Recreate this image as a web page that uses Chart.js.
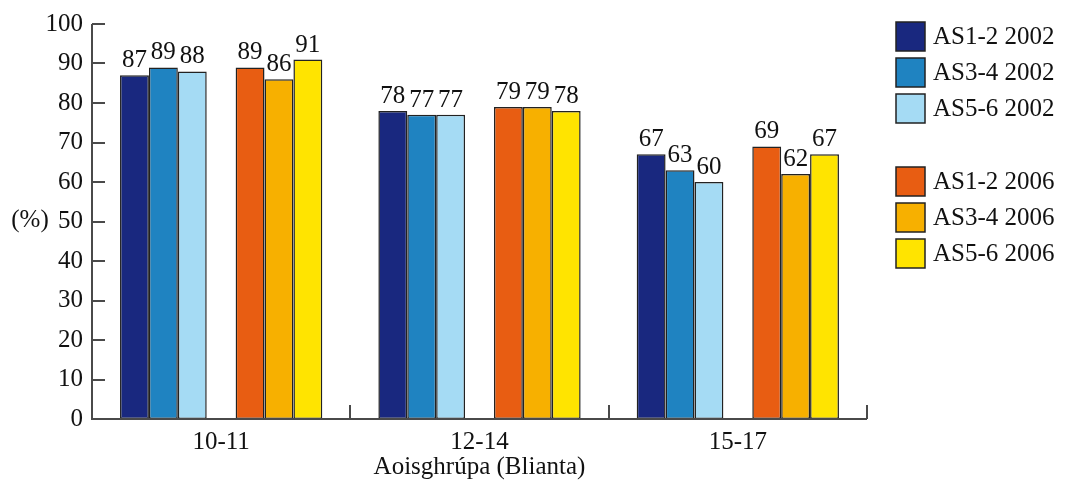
<!DOCTYPE html>
<html>
<head>
<meta charset="utf-8">
<script src="https://cdn.jsdelivr.net/npm/chart.js@4.4.0/dist/chart.umd.min.js"></script>
<style>
html,body{margin:0;padding:0;background:#fff;}
#wrap{width:1066px;height:481px;position:relative;}
</style>
</head>
<body>
<div id="wrap"><canvas id="c" width="1066" height="481"></canvas></div>
<script>
const categories = ['10-11', '12-14', '15-17'];
const seriesLabels = ['AS1-2 2002', 'AS3-4 2002', 'AS5-6 2002', 'AS1-2 2006', 'AS3-4 2006', 'AS5-6 2006'];
const as12_2002 = [87, 78, 67];
const as34_2002 = [89, 77, 63];
const as56_2002 = [88, 77, 60];
const as12_2006 = [89, 79, 69];
const as34_2006 = [86, 79, 62];
const as56_2006 = [91, 78, 67];
const yTicks = [0, 10, 20, 30, 40, 50, 60, 70, 80, 90, 100];
const yTitle = '(%)';
const xTitle = 'Aoisghrúpa (Blianta)';

const colors = ['#19287f', '#1f83c1', '#a5dbf4', '#e85d12', '#f7b000', '#ffe400'];
const FONT = '"Liberation Serif", "DejaVu Serif", serif';
const FS = 25;
const seriesData = [as12_2002, as34_2002, as56_2002, as12_2006, as34_2006, as56_2006];

const datasets = [];
seriesData.forEach((d, i) => {
  if (i === 3) {
    datasets.push({ label: '', data: categories.map(() => null), backgroundColor: 'rgba(0,0,0,0)', borderWidth: 0, spacer: true });
  }
  datasets.push({
    label: seriesLabels[i], data: d, backgroundColor: colors[i],
    borderColor: '#222', borderWidth: 1.5, borderSkipped: false
  });
});

const deco = {
  id: 'deco',
  afterDraw(chart) {
    const ctx = chart.ctx;
    const ca = chart.chartArea;
    const xs = chart.scales.x, ys = chart.scales.y;
    ctx.save();
    // axes
    ctx.strokeStyle = '#4a4a4a';
    ctx.lineWidth = 2;
    ctx.beginPath();
    ctx.moveTo(ca.left, ys.getPixelForValue(100));
    ctx.lineTo(ca.left, ys.getPixelForValue(0));
    ctx.lineTo(ca.right, ys.getPixelForValue(0));
    ctx.stroke();
    // y ticks inward
    yTicks.forEach(v => {
      const y = Math.round(ys.getPixelForValue(v));
      ctx.beginPath();
      ctx.moveTo(ca.left, y);
      ctx.lineTo(ca.left + 13, y);
      ctx.stroke();
    });
    // x category boundary ticks
    const y0 = ys.getPixelForValue(0);
    const w = (xs.getPixelForValue(1) - xs.getPixelForValue(0));
    for (let i = 0; i < categories.length; i++) {
      const xb = Math.round(xs.getPixelForValue(i) + w / 2);
      ctx.beginPath();
      ctx.moveTo(xb, y0);
      ctx.lineTo(xb, y0 - 14);
      ctx.stroke();
    }
    // data labels
    ctx.fillStyle = '#111';
    ctx.font = FS + 'px ' + FONT;
    ctx.textAlign = 'center';
    ctx.textBaseline = 'alphabetic';
    chart.data.datasets.forEach((ds, di) => {
      if (ds.spacer) return;
      const meta = chart.getDatasetMeta(di);
      meta.data.forEach((bar, j) => {
        ctx.fillText(String(ds.data[j]), bar.x, bar.y - 8);
      });
    });
    // axis titles
    ctx.textBaseline = 'middle';
    ctx.fillText(yTitle, 30, 220);
    ctx.fillText(xTitle, (ca.left + ca.right) / 2, 467);
    // legend
    const rows = [22, 58, 94, 167, 203, 239];
    ctx.textAlign = 'left';
    rows.forEach((ry, i) => {
      ctx.fillStyle = colors[i];
      ctx.fillRect(896, ry, 29, 29);
      ctx.strokeStyle = '#222';
      ctx.lineWidth = 1.5;
      ctx.strokeRect(896, ry, 29, 29);
      ctx.fillStyle = '#111';
      ctx.fillText(seriesLabels[i], 933, ry + 15);
    });
    ctx.restore();
  }
};

new Chart(document.getElementById('c'), {
  type: 'bar',
  data: { labels: categories, datasets },
  options: {
    responsive: false,
    animation: false,
    layout: { padding: { left: 0, right: 199, top: 21, bottom: 0 } },
    plugins: { legend: { display: false }, tooltip: { enabled: false } },
    datasets: { bar: { categoryPercentage: 0.783, barPercentage: 1 } },
    scales: {
      x: {
        grid: { display: false, drawTicks: false },
        border: { display: false },
        ticks: { font: { family: FONT, size: FS }, color: '#111', padding: 8 },
        afterFit(s) { s.height = 62; }
      },
      y: {
        min: 0, max: 100,
        afterBuildTicks(s) { s.ticks = yTicks.map(v => ({ value: v })); },
        grid: { display: false, drawTicks: false },
        border: { display: false },
        ticks: { font: { family: FONT, size: FS }, color: '#111', padding: 9 },
        afterFit(s) { s.width = 92; }
      }
    }
  },
  plugins: [deco]
});
</script>
</body>
</html>
